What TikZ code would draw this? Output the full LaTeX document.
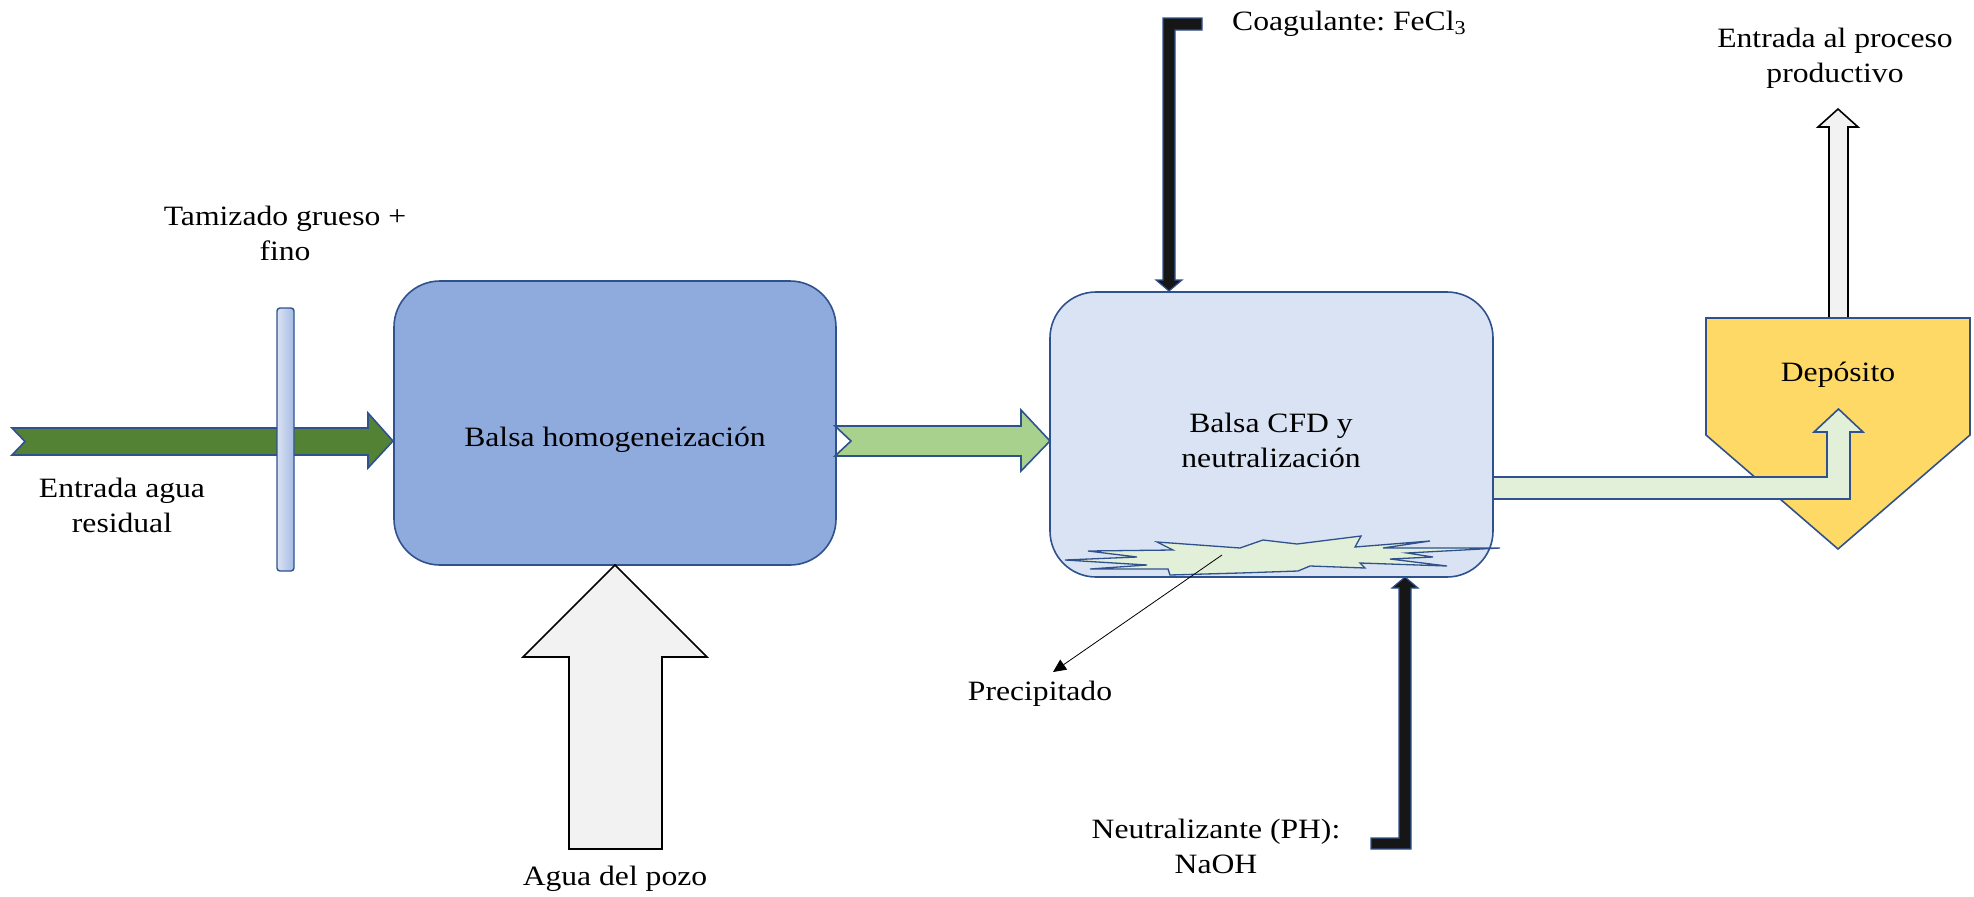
\documentclass[tikz,border=0pt]{standalone}
\usepackage{fontspec}
\setmainfont[FakeStretch=1.13]{Liberation Serif}
\usetikzlibrary{arrows.meta,calc}
\frenchspacing

\definecolor{edgeblue}{HTML}{2F528F}
\definecolor{tankA}{HTML}{8FAADC}
\definecolor{tankB}{HTML}{DAE3F3}
\definecolor{darkgreen}{HTML}{548235}
\definecolor{midgreen}{HTML}{A9D18E}
\definecolor{palegreen}{HTML}{E2F0D9}
\definecolor{palegray}{HTML}{F2F2F2}
\definecolor{silo}{HTML}{FFD966}
\definecolor{ink}{HTML}{161616}

\tikzset{
  edge/.style={draw=edgeblue, line width=1.6pt, line join=miter},
  tank/.style={edge, rounded corners=46pt, inner sep=0pt},
  grayflow/.style={draw=black, line width=1.6pt, fill=palegray, line join=miter},
  dosing/.style={draw=edgeblue, line width=1.2pt, fill=ink, line join=miter},
  lbl/.style={font=\fontsize{28}{35}\selectfont, align=center, inner sep=0pt, text=black},
}

\begin{document}
\begin{tikzpicture}[x=1pt, y=-1pt]
\useasboundingbox (0,0) rectangle (1974,897);

% inlet of waste water (notched block arrow)
\draw[edge, fill=darkgreen] (12,428) -- (368,428) -- (368,413) -- (393,441)
  -- (368,468) -- (368,455) -- (12,455) -- (25,441.5) -- cycle;

% screening bar
\draw[edge, line width=1.4pt, rounded corners=3pt, left color=tankB, right color=tankA!80]
  (277,308) rectangle (294,571);

% tanks
\node[tank, fill=tankA, minimum width=442pt, minimum height=284pt] (b1) at (615,423) {};
\node[tank, fill=tankB, minimum width=443pt, minimum height=285pt] (b2) at (1271.5,434.5) {};

\node[lbl] (tb1) at (615,440) {Balsa homogeneización};
\node[lbl] (tb2) at (1271,440.5) {Balsa CFD y\\neutralización};

% flow between the tanks
\draw[edge, fill=midgreen] (835,426) -- (1021,426) -- (1021,410) -- (1050,441)
  -- (1021,471) -- (1021,456) -- (835,456) -- (851,441) -- cycle;

% well water inlet
\draw[grayflow] (615,565) -- (707,657) -- (662,657) -- (662,849) -- (569,849)
  -- (569,657) -- (523,657) -- cycle;

% sediment at the bottom of the second tank
\draw[edge, line width=1.3pt, fill=palegreen, line join=miter]
  (1065,560) -- (1137,557) -- (1088,551) -- (1173,550) -- (1157,542) -- (1240,548)
  -- (1263,540) -- (1297,544) -- (1361,536) -- (1355,547) -- (1430,541) -- (1383,548)
  -- (1500,548) -- (1407,553) -- (1433,557) -- (1390,559) -- (1447,566) -- (1360,563)
  -- (1365,568) -- (1310,566) -- (1298,571) -- (1240,573) -- (1170,575) -- (1168,569)
  -- (1090,569) -- (1147,565) -- cycle;

% coagulant dosing
\draw[dosing] (1202,18) -- (1202,30) -- (1175,30) -- (1175,280) -- (1182,280)
  -- (1169,291) -- (1156,280) -- (1163,280) -- (1163,18) -- cycle;

% neutraliser dosing
\draw[dosing] (1405,577) -- (1418,588) -- (1411,588) -- (1411,849) -- (1371,849)
  -- (1371,838) -- (1399,838) -- (1399,588) -- (1392,588) -- cycle;

% outlet to the process
\draw[grayflow] (1829,318) -- (1829,127) -- (1818,127) -- (1838,109) -- (1858,127)
  -- (1848,127) -- (1848,318) -- cycle;

% storage tank
\draw[edge, fill=silo] (1706,318) -- (1970,318) -- (1970,435) -- (1838,549)
  -- (1706,435) -- cycle;
\node[lbl] (tdep) at (1838,375) {Depósito};

% treated water to storage
\draw[edge, fill=palegreen] (1493,477) -- (1827,477) -- (1827,432) -- (1814,432)
  -- (1838.5,409) -- (1863,432) -- (1850,432) -- (1850,499) -- (1493,499) -- cycle;

% labels
\node[lbl] (ttam) at (285,233) {Tamizado grueso +\\fino};
\node[lbl] (tin) at (122,505) {Entrada agua\\residual};
\node[lbl, anchor=base west] (tcoag) at (1232,30) {Coagulante: FeCl\textsubscript{3}};
\node[lbl] (tneu) at (1216,846) {Neutralizante (PH):\\NaOH};
\node[lbl, anchor=base] (tprec) at (1040,700) {Precipitado};
\node[lbl, anchor=base] (tpozo) at (615,885) {Agua del pozo};
\node[lbl] (tout) at (1835,58) {Entrada al proceso\\productivo};

% pointer to the sediment
\coordinate (sedim) at (1222,555);
\coordinate (ptip) at (1053,672);
\draw[line width=0.8pt, -{Triangle[length=13pt,width=12pt]}] (sedim) -- (ptip);
\end{tikzpicture}
\end{document}
